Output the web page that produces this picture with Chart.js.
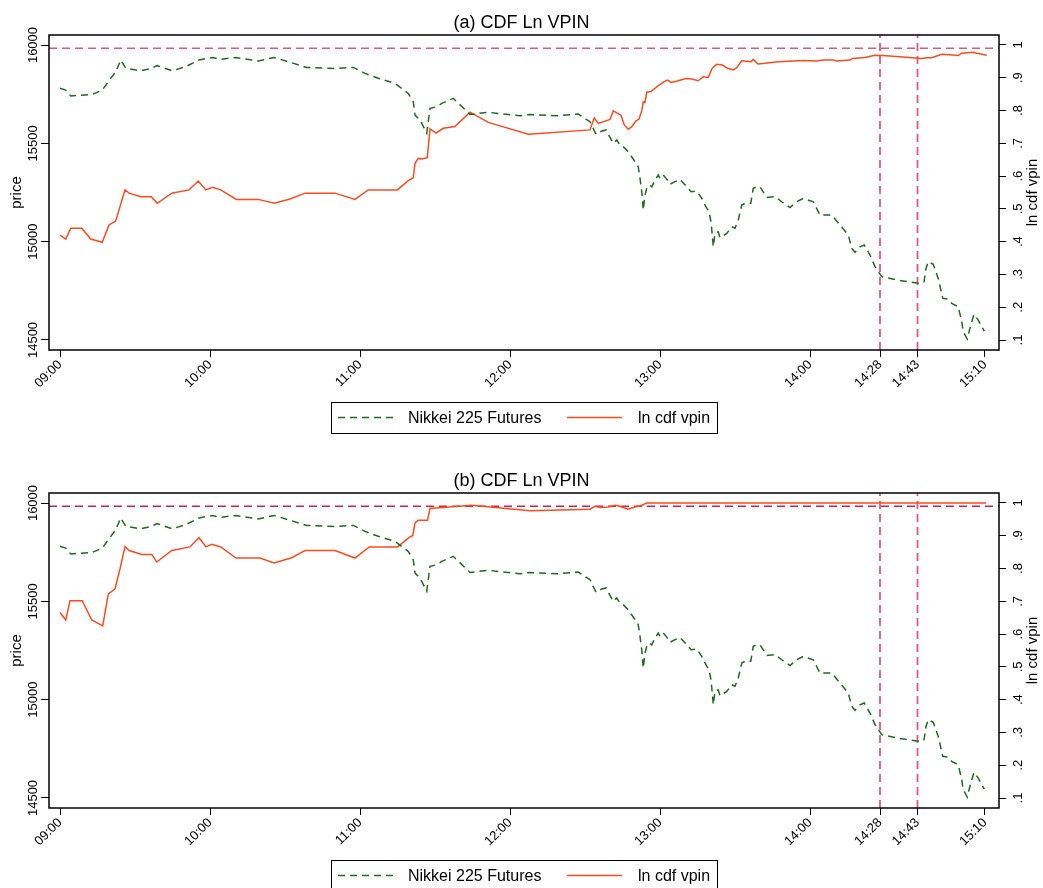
<!DOCTYPE html>
<html>
<head>
<meta charset="utf-8">
<script src="https://cdn.jsdelivr.net/npm/chart.js@4.4.0/dist/chart.umd.min.js"></script>
<style>
  body { margin: 0; background: #fff; }
  .panel { position: absolute; left: 0; width: 1043px; }
  #panelA { top: 0; height: 444px; }
  #panelB { top: 458px; height: 430px; }
</style>
</head>
<body>
<div class="panel" id="panelA"><canvas id="chartA"></canvas></div>
<div class="panel" id="panelB"><canvas id="chartB"></canvas></div>
<script>
// minutes after 09:00
const priceTimes = [0, 2.3, 4.3, 12.9, 16.9, 19.3, 22.3, 24.3, 26.3, 32.3, 35.6, 38.9, 44.9, 50.3, 55.6, 60.9, 64.3, 70.3,
  79.3, 85.7, 91.3, 98.7, 110, 117.3, 122, 127.3, 134, 139.3, 141.3, 142, 144, 146.7, 148, 150.7, 152.7, 157.3, 164,
  171.3, 184, 188, 198.7, 207.3, 212, 214.4, 216.7, 218.5, 219.5, 221.3, 222.7, 224, 225.3, 227.3, 230, 231.3, 232,
  232.7, 233.3, 234, 234.7, 235.6, 236.7, 238, 239.3, 240, 241.3, 242.7, 244, 246, 248, 250.7, 252.4, 254.7, 256.7,
  258, 259.6, 260.4, 260.9, 261.3, 262, 263.3, 264, 266.7, 268.7, 270, 271.3, 272.7, 274, 276.3, 277.3, 278.7, 280,
  282.7, 286, 288.7, 292, 294.7, 297.3, 301.3, 304, 306.7, 308.7, 312, 315.3, 316.7, 318, 320, 321.7, 324, 326, 328.7,
  334.7, 344, 345.6, 346.4, 347.3, 349.3, 351.3, 353.1, 355.3, 356.7, 359.3, 360.7, 361.3, 362.9, 364.3, 365.6, 367.3,
  369.7];
const priceValues = [15780, 15771, 15741, 15749, 15771, 15813, 15864, 15924, 15881, 15869, 15878, 15895, 15869, 15890,
  15924, 15937, 15927, 15937, 15919, 15937, 15915, 15886, 15881, 15886, 15856, 15831, 15805, 15754, 15712, 15644, 15619,
  15551, 15678, 15686, 15703, 15729, 15647, 15658, 15640, 15647, 15640, 15649, 15610, 15546, 15563, 15568, 15542, 15500,
  15517, 15491, 15483, 15457, 15407, 15381, 15322, 15254, 15161, 15237, 15271, 15288, 15279, 15313, 15339, 15322, 15339,
  15318, 15292, 15305, 15317, 15279, 15254, 15257, 15220, 15186, 15152, 15101, 15034, 14974, 15042, 15050, 15020, 15042,
  15076, 15068, 15110, 15186, 15195, 15195, 15271, 15279, 15279, 15225, 15229, 15203, 15173, 15203, 15220, 15203, 15135,
  15135, 15135, 15085, 15034, 14966, 14946, 14974, 14983, 14932, 14873, 14822, 14805, 14788, 14796, 14864, 14898, 14885,
  14813, 14712, 14708, 14686, 14669, 14593, 14542, 14505, 14576, 14630, 14601, 14545];

const vpinATimes = [0, 2.3, 4.3, 8.7, 12.3, 16.9, 19.6, 22.3, 24, 26, 27.6, 32.3, 36.5, 38.9, 44.7, 51.6, 55.3, 58.3,
  60.9, 64.3, 70.5, 79.3, 85.7, 92, 98, 110, 118, 123.3, 135, 139.3, 141.3, 142, 143.3, 144.7, 146.9, 148, 150.4, 153.3,
  158, 164, 171.3, 187.3, 212, 213.7, 215.3, 220, 221.3, 224.4, 225.7, 227.3, 228.7, 230.3, 231.6, 232.7, 233.3, 234,
  234.7, 236.4, 239.3, 242, 243.1, 244.4, 247.3, 250.3, 252.7, 255.3, 257.3, 259.3, 260.9, 262.7, 264.9, 267.1, 269.3,
  270.7, 272.7, 276.4, 277.3, 279.1, 282, 287.3, 297.3, 302.7, 305.3, 309.3, 310.7, 316, 317.1, 322, 326, 329.3, 344.7,
  346.7, 348.7, 352.7, 356, 359.3, 360.7, 365.3, 366.7, 370.7];
const vpinAValues = [0.420, 0.408, 0.441, 0.441, 0.408, 0.398, 0.451, 0.463, 0.507, 0.558, 0.548, 0.537, 0.537, 0.517,
  0.548, 0.558, 0.585, 0.558, 0.566, 0.558, 0.529, 0.529, 0.517, 0.530, 0.548, 0.548, 0.529, 0.558, 0.558, 0.586, 0.595,
  0.639, 0.654, 0.652, 0.656, 0.744, 0.731, 0.746, 0.751, 0.795, 0.764, 0.728, 0.741, 0.778, 0.761, 0.773, 0.799, 0.786,
  0.756, 0.743, 0.751, 0.768, 0.774, 0.799, 0.827, 0.825, 0.856, 0.858, 0.876, 0.890, 0.893, 0.886, 0.891, 0.898, 0.896,
  0.891, 0.903, 0.901, 0.929, 0.941, 0.939, 0.929, 0.924, 0.931, 0.952, 0.949, 0.956, 0.942, 0.944, 0.949, 0.953, 0.951,
  0.954, 0.954, 0.951, 0.954, 0.959, 0.962, 0.969, 0.968, 0.959, 0.961, 0.961, 0.972, 0.970, 0.968, 0.975, 0.978, 0.975,
  0.969];

const vpinBTimes = [0, 2.3, 4, 8.9, 12.7, 17.1, 19.3, 22, 24, 26, 27.7, 32.7, 36.7, 38.7, 44.7, 52, 55.6, 58.4, 60.7,
  64.3, 70.4, 80, 85.6, 92.7, 98, 110, 118, 123.7, 135, 139.3, 141.1, 142, 143.3, 147, 148, 153.3, 164.7, 188, 212, 214,
  216, 219.3, 222, 224, 227.1, 230, 232.7, 234.7, 370.4];
const vpinBValues = [0.666, 0.643, 0.702, 0.702, 0.643, 0.625, 0.722, 0.738, 0.799, 0.867, 0.855, 0.843, 0.843, 0.820,
  0.855, 0.866, 0.894, 0.866, 0.874, 0.866, 0.832, 0.832, 0.817, 0.833, 0.855, 0.855, 0.832, 0.866, 0.866, 0.893, 0.901,
  0.939, 0.947, 0.947, 0.983, 0.986, 0.993, 0.976, 0.981, 0.990, 0.986, 0.988, 0.993, 0.990, 0.981, 0.988, 0.993, 1.0,
  1.0];

const timeTickValues = [0, 60, 120, 180, 240, 300, 328, 343, 370];
const timeTickLabels = ['09:00', '10:00', '11:00', '12:00', '13:00', '14:00', '14:28', '14:43', '15:10'];
const priceTicks = [14500, 15000, 15500, 16000];
const vpinTicks = [0.1, 0.2, 0.3, 0.4, 0.5, 0.6, 0.7, 0.8, 0.9, 1];
const vpinTickLabels = ['.1', '.2', '.3', '.4', '.5', '.6', '.7', '.8', '.9', '1'];
const eventTimes = [328, 343];
const vpinThreshold = 0.99;

const GREEN = '#1b6d1b';
const ORANGE = '#ff4a1c';
const PINK = '#e0587e';
const FONT = "'Liberation Sans', Arial, sans-serif";

Chart.defaults.font.family = FONT;
Chart.defaults.color = '#000';

const X_MIN = -4.4, X_MAX = 375.6;
const P_MIN = 14449, P_MAX = 16051;
const V_MIN = 0.0695, V_MAX = 1.0305;

function toPoints(xs, ys) {
    return xs.map((x, i) => ({ x, y: ys[i] }));
}

// y tick labels are vertical, axis titles, plot box and the boxed legend
const frameText = {
    id: 'frameText',
    afterDraw(chart) {
        const ctx = chart.ctx;
        const area = chart.chartArea;
        const yP = chart.scales.yP, yV = chart.scales.yV;
        const midY = (area.top + area.bottom) / 2;
        ctx.save();
        ctx.fillStyle = '#000';
        ctx.textAlign = 'center';
        ctx.textBaseline = 'middle';
        ctx.font = '13px ' + FONT;
        priceTicks.forEach(v => {
            ctx.save();
            ctx.translate(33, yP.getPixelForValue(v));
            ctx.rotate(-Math.PI / 2);
            ctx.fillText(String(v), 0, 0);
            ctx.restore();
        });
        vpinTicks.forEach((v, i) => {
            ctx.save();
            ctx.translate(1018, yV.getPixelForValue(v));
            ctx.rotate(-Math.PI / 2);
            ctx.fillText(vpinTickLabels[i], 0, 0);
            ctx.restore();
        });
        ctx.font = '15px ' + FONT;
        ctx.save();
        ctx.translate(17, midY);
        ctx.rotate(-Math.PI / 2);
        ctx.fillText('price', 0, 0);
        ctx.restore();
        ctx.save();
        ctx.translate(1033, midY);
        ctx.rotate(-Math.PI / 2);
        ctx.fillText('ln cdf vpin', 0, 0);
        ctx.restore();

        ctx.strokeStyle = '#000';
        ctx.lineWidth = 1.5;
        ctx.strokeRect(area.left, area.top, area.right - area.left, area.bottom - area.top);

        // legend
        const ly = 417.5;
        ctx.lineWidth = 1;
        ctx.strokeRect(331.5, 402.5, 386, 31);
        ctx.lineWidth = 1.5;
        ctx.strokeStyle = GREEN;
        ctx.setLineDash([7, 5]);
        ctx.beginPath(); ctx.moveTo(338, ly); ctx.lineTo(398, ly); ctx.stroke();
        ctx.setLineDash([]);
        ctx.strokeStyle = ORANGE;
        ctx.beginPath(); ctx.moveTo(567, ly); ctx.lineTo(622, ly); ctx.stroke();
        ctx.font = '16px ' + FONT;
        ctx.textAlign = 'left';
        ctx.fillText('Nikkei 225 Futures', 408, ly + 1);
        ctx.fillText('ln cdf vpin', 638, ly + 1);
        ctx.restore();
    }
};

function buildChart(canvasId, title, vpinTimes, vpinValues, axisHeight, thresholdColor) {
    const datasets = [
        {
            label: 'Nikkei 225 Futures',
            data: toPoints(priceTimes, priceValues),
            yAxisID: 'yP',
            borderColor: GREEN,
            borderWidth: 1.5,
            borderDash: [7, 5],
            pointRadius: 0,
            tension: 0
        },
        {
            label: 'ln cdf vpin',
            data: toPoints(vpinTimes, vpinValues),
            yAxisID: 'yV',
            borderColor: ORANGE,
            borderWidth: 1.5,
            pointRadius: 0,
            tension: 0
        },
        {
            label: 'threshold',
            data: [{ x: X_MIN, y: vpinThreshold }, { x: X_MAX, y: vpinThreshold }],
            yAxisID: 'yV',
            borderColor: thresholdColor,
            borderWidth: 1.5,
            borderDash: [8, 5],
            pointRadius: 0
        }
    ];
    eventTimes.forEach(t => {
        datasets.push({
            label: 'event',
            data: [{ x: t, y: V_MIN }, { x: t, y: V_MAX }],
            yAxisID: 'yV',
            borderColor: PINK,
            borderWidth: 1.8,
            borderDash: [8, 5],
            pointRadius: 0
        });
    });

    return new Chart(document.getElementById(canvasId), {
        type: 'line',
        data: { datasets },
        plugins: [frameText],
        options: {
            responsive: true,
            maintainAspectRatio: false,
            animation: false,
            layout: { padding: 0 },
            plugins: {
                legend: { display: false },
                tooltip: { enabled: false },
                title: {
                    display: true,
                    text: title,
                    font: { size: 18, weight: 'normal' },
                    color: '#000',
                    padding: { top: 12.5, bottom: 0.9 }
                }
            },
            scales: {
                x: {
                    type: 'linear',
                    min: X_MIN,
                    max: X_MAX,
                    afterBuildTicks: s => { s.ticks = timeTickValues.map(v => ({ value: v })); },
                    afterFit: s => { s.height = axisHeight; },
                    ticks: {
                        autoSkip: false,
                        minRotation: 45,
                        maxRotation: 45,
                        padding: 0,
                        font: { size: 13 },
                        callback: v => timeTickLabels[timeTickValues.indexOf(v)]
                    },
                    grid: { drawOnChartArea: false, drawTicks: true, tickLength: 7, color: '#000' },
                    border: { display: false }
                },
                yP: {
                    type: 'linear',
                    position: 'left',
                    min: P_MIN,
                    max: P_MAX,
                    afterBuildTicks: s => { s.ticks = priceTicks.map(v => ({ value: v })); },
                    afterFit: s => { s.width = 49; },
                    ticks: { display: false },
                    grid: { drawOnChartArea: false, drawTicks: true, tickLength: 8, color: '#000' },
                    border: { display: false }
                },
                yV: {
                    type: 'linear',
                    position: 'right',
                    min: V_MIN,
                    max: V_MAX,
                    afterBuildTicks: s => { s.ticks = vpinTicks.map(v => ({ value: v })); },
                    afterFit: s => { s.width = 44; },
                    ticks: { display: false },
                    grid: { drawOnChartArea: false, drawTicks: true, tickLength: 7, color: '#000' },
                    border: { display: false }
                }
            }
        }
    });
}

buildChart('chartA', '(a) CDF Ln VPIN', vpinATimes, vpinAValues, 94, PINK);
buildChart('chartB', '(b) CDF Ln VPIN', vpinBTimes, vpinBValues, 80, '#d42048');
</script>
</body>
</html>
